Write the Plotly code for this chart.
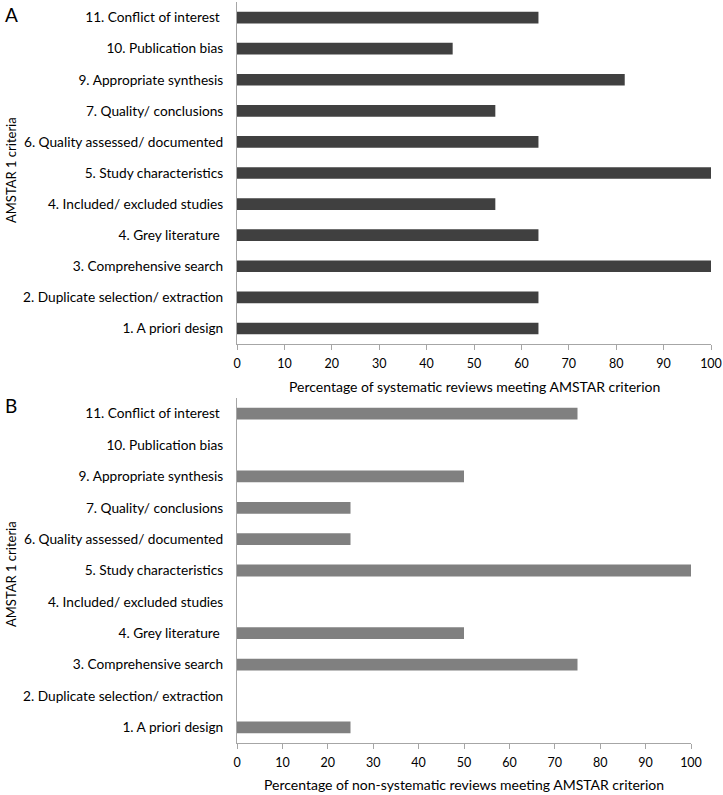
import plotly.graph_objects as go

criteria = [
    "1. A priori design",
    "2. Duplicate selection/ extraction",
    "3. Comprehensive search",
    "4. Grey literature ",
    "4. Included/ excluded studies",
    "5. Study characteristics",
    "6. Quality assessed/ documented",
    "7. Quality/ conclusions",
    "9. Appropriate synthesis",
    "10. Publication bias",
    "11. Conflict of interest ",
]
systematic_pct = [63.6, 63.6, 100, 63.6, 54.5, 100, 63.6, 54.5, 81.8, 45.5, 63.6]
non_systematic_pct = [25, 0, 75, 50, 0, 100, 25, 25, 50, 0, 75]

x_ticks = [0, 10, 20, 30, 40, 50, 60, 70, 80, 90, 100]
title_a = "Percentage of systematic reviews meeting AMSTAR criterion"
title_b = "Percentage of non-systematic reviews meeting AMSTAR criterion"
y_title = "AMSTAR 1 criteria"

FONT = "Lato"
W, H = 723, 795
ML, MR, MT, MB = 237, 12, 2, 52

fig = go.Figure()
fig.add_trace(go.Bar(x=systematic_pct, y=criteria, orientation="h",
                     marker=dict(color="#404040", line=dict(width=0)),
                     width=0.375, xaxis="x", yaxis="y", hoverinfo="x+y"))
fig.add_trace(go.Bar(x=non_systematic_pct, y=criteria, orientation="h",
                     marker=dict(color="#808080", line=dict(width=0)),
                     width=0.375, xaxis="x2", yaxis="y2", hoverinfo="x+y"))

ph = H - MT - MB
def py(pix):
    return (H - MB - pix) / ph

def px_x(pix):
    return (pix - ML) / (W - ML - MR)

axis_common = dict(showgrid=False, zeroline=False, showline=True,
                   linecolor="#a6a6a6", linewidth=1)
xa = dict(axis_common, range=[0, 100], tickvals=x_ticks, ticks="outside",
          ticklen=5, tickcolor="#a6a6a6", ticklabelstandoff=3,
          tickfont=dict(family=FONT, size=12.5, color="#000"))
ya = dict(axis_common, type="category", categoryorder="array",
          categoryarray=criteria, range=[-0.5, 10.5], ticks="",
          ticklabelstandoff=10,
          tickfont=dict(family=FONT, size=13.7, color="#000"))

fig.update_layout(
    width=W, height=H,
    margin=dict(l=ML, r=MR, t=MT, b=MB),
    paper_bgcolor="white", plot_bgcolor="white",
    showlegend=False, bargap=0.6,
    xaxis=dict(xa, domain=[0, 1], anchor="y"),
    yaxis=dict(ya, domain=[py(344), 1.0], anchor="x"),
    xaxis2=dict(xa, domain=[0, (691 - 237) / (711 - 237)], anchor="y2"),
    yaxis2=dict(ya, domain=[0, py(398)], anchor="x2"),
)

def ann(text, x, y, size, xanchor="center", textangle=0):
    fig.add_annotation(text=text, x=x, y=y, xref="paper", yref="paper",
                       xanchor=xanchor, yanchor="middle", showarrow=False,
                       textangle=textangle,
                       font=dict(family=FONT, size=size, color="#000"))

ann(title_a, px_x((237 + 711) / 2), py(386), 14)
ann(title_b, px_x((237 + 691) / 2), py(784), 14)
ann(y_title, px_x(11), py(170), 13, textangle=-90)
ann(y_title, px_x(11), py(574), 13, textangle=-90)
ann("A", px_x(3), py(14), 19, xanchor="left")
ann("B", px_x(3), py(405), 19, xanchor="left")

fig.write_html("out.html", config={"displayModeBar": False},
               post_script="document.body.style.margin='0';document.body.style.padding='0';")
